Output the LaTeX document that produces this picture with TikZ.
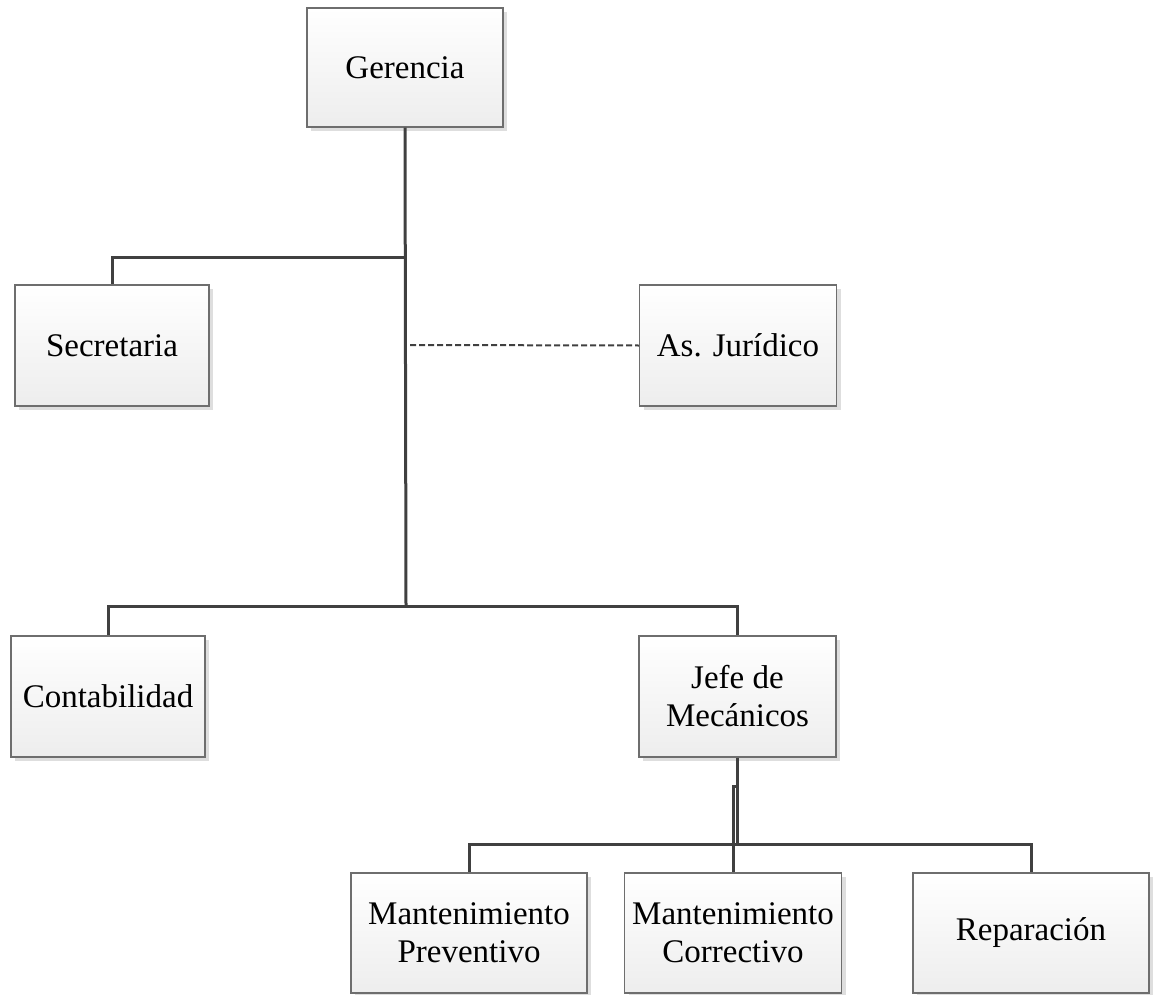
\documentclass[tikz,border=0pt]{standalone}
\usepackage{fontspec}
\setmainfont{Liberation Serif}
\usetikzlibrary{shadows}
\definecolor{linegray}{HTML}{404040}
\definecolor{boxline}{HTML}{6E6E6E}
\tikzset{
  orgbox/.style={rectangle, draw=boxline, line width=1.3pt,
    top color=white, bottom color=black!7,
    drop shadow={shadow xshift=4pt, shadow yshift=-4pt, fill=black!13, opacity=1},
    align=center, inner sep=0pt, font=\fontsize{33}{38}\selectfont},
  link/.style={draw=linegray, line width=3pt},
  advice/.style={draw=linegray, line width=2pt, dash pattern=on 6pt off 3pt}
}
\begin{document}
\begin{tikzpicture}[x=1pt, y=-1pt]
  \useasboundingbox (0,0) rectangle (1153,995);
  % boxes
  \node[orgbox, minimum width=196pt, minimum height=119pt] (ger) at (405,67.5) {Gerencia};
  \node[orgbox, minimum width=194pt, minimum height=121pt] (sec) at (112,345.5) {Secretaria};
  \node[orgbox, minimum width=197pt, minimum height=121pt] (jur) at (738,345.5) {As. Jurídico};
  \node[orgbox, minimum width=194pt, minimum height=121pt] (con) at (108,696.5) {Contabilidad};
  \node[orgbox, minimum width=197pt, minimum height=121pt] (jefe) at (737.5,696.5) {Jefe de\\Mecánicos};
  \node[orgbox, minimum width=236pt, minimum height=120pt] (prev) at (469,933) {Mantenimiento\\Preventivo};
  \node[orgbox, minimum width=217pt, minimum height=120pt] (corr) at (733,933) {Mantenimiento\\Correctivo};
  \node[orgbox, minimum width=236pt, minimum height=120pt] (rep) at (1031,933) {Reparación};
  % junction points
  \coordinate (b1) at (406,257);
  \coordinate (b2) at (406,606);
  \coordinate (d1) at (410,345);
  \coordinate (j1) at (737.5,844);
  \coordinate (j2) at (737.5,786);
  \coordinate (j3) at (733,786);
  % connectors
  \draw[link] (ger.south) -- (b2);
  \draw[link] (b1) -| (sec.north);
  \draw[link] (b2) -| (con.north);
  \draw[link] (b2) -| (jefe.north);
  \draw[advice] (d1) -- (jur.west);
  \draw[link] (jefe.south) -- (j1);
  \draw[link] (j1) -| (prev.north);
  \draw[link] (j1) -| (rep.north);
  \draw[link] (j2) -- (j3) -- (corr.north);
\end{tikzpicture}
\end{document}
